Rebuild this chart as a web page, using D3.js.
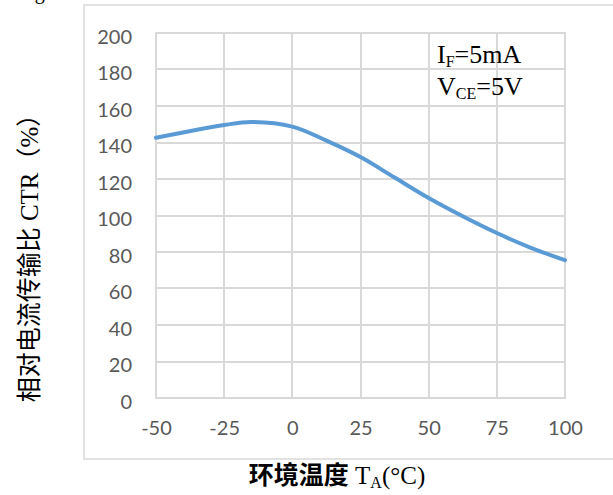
<!DOCTYPE html>
<html>
<head>
<meta charset="utf-8">
<script src="https://cdn.jsdelivr.net/npm/d3@7"></script>
<style>
  body { margin: 0; background: #fff; }
  svg { display: block; }
  .tick-label { font-family: Lato, "Noto Sans", sans-serif; font-size: 20px; fill: #595959; }
</style>
</head>
<body>
<div id="chart"></div>
<script>
// data
var temps = [-50, -25, -15, 0, 12.5, 25, 37.5, 50, 62.5, 75, 87.5, 100];
var ctr = [142.6, 149.6, 151.2, 148.7, 141, 132, 120.8, 109.6, 99.6, 90.4, 82.3, 75.5];
var xTicks = [-50, -25, 0, 25, 50, 75, 100];
var yTicks = [0, 20, 40, 60, 80, 100, 120, 140, 160, 180, 200];

var W = 613, H = 495;
var plot = { left: 156, top: 33, right: 565, bottom: 398 };
var gridColor = "#d9d9d9";

var svg = d3.select("#chart")
  .append("svg")
  .attr("width", W)
  .attr("height", H);

var xScale = d3.scaleLinear().domain([-50, 100]).range([plot.left, plot.right]);
var yScale = d3.scaleLinear().domain([0, 200]).range([plot.bottom, plot.top]);

// plain hyphen minus like the reference
var fmt = function(d) { return String(d); };

// cut off caption above the chart, only the descender shows
svg.append("text")
  .attr("x", 18)
  .attr("y", -1)
  .style("font-family", "Liberation Serif")
  .style("font-size", "20px")
  .text("Fig");

// outer chart frame (right side runs off the page)
svg.append("path")
  .attr("d", "M620,5 H84 V459 H620")
  .attr("fill", "none")
  .attr("stroke", gridColor)
  .attr("stroke-width", 1.5);

// gridlines
svg.append("g")
  .selectAll(".hgrid")
  .data(yTicks)
  .enter().append("line")
  .attr("class", "hgrid")
  .attr("x1", plot.left - 1)
  .attr("x2", plot.right + 1)
  .attr("y1", function(d) { return Math.round(yScale(d)); })
  .attr("y2", function(d) { return Math.round(yScale(d)); })
  .attr("stroke", gridColor)
  .attr("stroke-width", 2);

svg.append("g")
  .selectAll(".vgrid")
  .data(xTicks)
  .enter().append("line")
  .attr("class", "vgrid")
  .attr("x1", function(d) { return Math.round(xScale(d)); })
  .attr("x2", function(d) { return Math.round(xScale(d)); })
  .attr("y1", plot.top - 1)
  .attr("y2", plot.bottom + 1)
  .attr("stroke", gridColor)
  .attr("stroke-width", 2);

// axes, only used for labels
var yAxis = d3.axisLeft(yScale).tickValues(yTicks).tickSize(0).tickPadding(24).tickFormat(fmt);
var gy = svg.append("g")
  .attr("transform", "translate(" + plot.left + ",4)")
  .call(yAxis);
gy.select(".domain").remove();
gy.selectAll("text").attr("class", "tick-label");

var xAxis = d3.axisBottom(xScale).tickValues(xTicks).tickSize(0).tickPadding(23).tickFormat(fmt);
var gx = svg.append("g")
  .attr("transform", "translate(0," + plot.bottom + ")")
  .call(xAxis);
gx.select(".domain").remove();
gx.selectAll("text").attr("class", "tick-label");

// the curve
var line = d3.line()
  .x(function(d, i) { return xScale(temps[i]); })
  .y(function(d) { return yScale(d); })
  .curve(d3.curveCatmullRom);

svg.append("path")
  .datum(ctr)
  .attr("d", line)
  .attr("fill", "none")
  .attr("stroke", "#5b9bd5")
  .attr("stroke-width", 4)
  .attr("stroke-linecap", "round");

// condition notes
var note1 = svg.append("text")
  .attr("x", 437)
  .attr("y", 63)
  .style("font-family", "Liberation Serif")
  .style("font-size", "26px");
note1.append("tspan").text("I");
note1.append("tspan").attr("dy", 4).style("font-size", "16px").text("F");
note1.append("tspan").attr("dy", -4).text("=5mA");

var note2 = svg.append("text")
  .attr("x", 437)
  .attr("y", 95)
  .style("font-family", "Liberation Serif")
  .style("font-size", "26px");
note2.append("tspan").text("V");
note2.append("tspan").attr("dy", 4).style("font-size", "16px").text("CE");
note2.append("tspan").attr("dy", -4).text("=5V");

// y title
svg.append("text")
  .attr("transform", "translate(38,252) rotate(-90)")
  .attr("text-anchor", "middle")
  .style("font-family", "'Liberation Serif', 'Noto Sans CJK SC'")
  .style("font-size", "25px")
  .text("相对电流传输比 CTR（%）");

// x title
var xt = svg.append("text")
  .attr("x", 337)
  .attr("y", 484)
  .attr("text-anchor", "middle")
  .style("font-family", "'Liberation Serif', 'Noto Sans CJK SC'")
  .style("font-size", "25px");
xt.append("tspan").style("font-weight", "bold").text("环境温度 ");
xt.append("tspan").text("T");
xt.append("tspan").attr("dy", 4).style("font-size", "16px").text("A");
xt.append("tspan").attr("dy", -4).text("(°C)");
</script>
</body>
</html>
